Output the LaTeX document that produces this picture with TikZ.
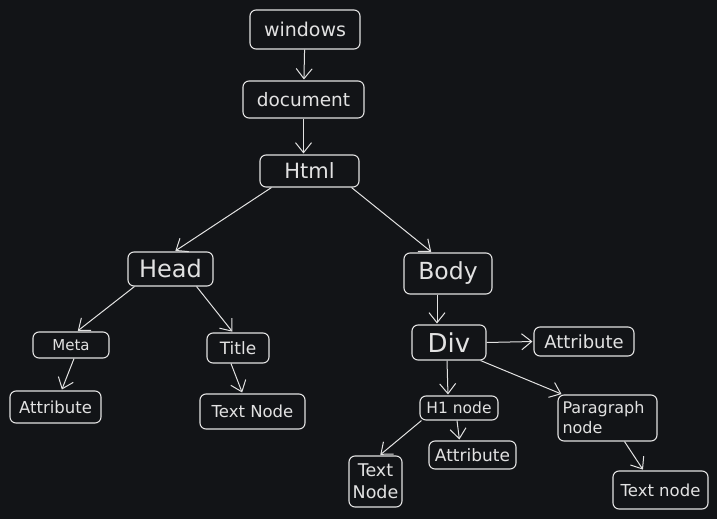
\documentclass[tikz,border=0pt]{standalone}
\usepackage{fontspec}
\setmainfont{DejaVu Sans}
\usepackage{tikz}
\usetikzlibrary{arrows.meta}
\definecolor{bg}{RGB}{18,20,23}
\definecolor{ink}{RGB}{226,226,226}
\tikzstyle{box} = [rectangle, rounded corners=6pt, draw=ink, line width=1.1pt, text=ink, text centered, inner sep=2pt]
\tikzstyle{arrow} = [draw=ink, line width=1pt, -{Straight Barb[length=10pt,width=16pt]}, shorten >=1pt]
\newcommand{\fsz}[1]{\fontsize{#1}{#1}\selectfont}

\begin{document}
\begin{tikzpicture}[x=1pt, y=-1pt]
            \fill[bg] (0,0) rectangle (717,519);
            \useasboundingbox (0,0) rectangle (717,519);

            % top chain
            \node (windows) [box, minimum width=110, minimum height=39, font=\fsz{19}] at (305,29.5) {windows};
            \node (document) [box, minimum width=121, minimum height=37, font=\fsz{18.5}] at (303.5,99.5) {document};
            \node (html) [box, minimum width=99, minimum height=32, font=\fsz{21}] at (309.5,171) {Html};

            % head side
            \node (head) [box, minimum width=85, minimum height=34, font=\fsz{24}] at (170.5,269) {Head};
            \node (meta) [box, minimum width=76, minimum height=26, font=\fsz{15}] at (71,345) {Meta};
            \node (title) [box, minimum width=62, minimum height=30, font=\fsz{17}] at (238,348) {Title};
            \node (meta-attr) [box, minimum width=91, minimum height=32, font=\fsz{16.5}] at (55.5,407) {Attribute};
            \node (title-text) [box, minimum width=105, minimum height=35, font=\fsz{16.5}] at (252.5,411.5) {Text Node};

            % body side
            \node (body) [box, minimum width=88, minimum height=41, font=\fsz{23.5}] at (448,273.5) {Body};
            \node (div) [box, minimum width=74, minimum height=35, font=\fsz{26}] at (449,342.5) {Div};
            \node (div-attr) [box, minimum width=100, minimum height=29, font=\fsz{18}] at (584,341.5) {Attribute};
            \node (h1) [box, minimum width=78, minimum height=24, font=\fsz{15.5}] at (459,408) {H1 node};
            \node (para) [box, minimum width=99, minimum height=46, text width=90pt, align=left, font=\fontsize{16}{20}\selectfont] at (607.5,418) {Paragraph\\node};
            \node (h1-text) [box, minimum width=53, minimum height=51, align=center, font=\fontsize{17.5}{22}\selectfont] at (375.5,481.5) {Text\\Node};
            \node (h1-attr) [box, minimum width=87, minimum height=28, font=\fsz{17}] at (472.5,455) {Attribute};
            \node (para-text) [box, minimum width=95, minimum height=38, font=\fsz{16.5}] at (660.5,490) {Text node};

            \draw [arrow] (windows) -- (document);
            \draw [arrow] (document.south) -- (document.south |- html.north);
            \draw [arrow] ([xshift=12]html.south west) -- ([xshift=4]head.north);
            \draw [arrow] ([xshift=-8]html.south east) -- ([xshift=-16]body.north);
            \draw [arrow] ([xshift=7]head.south west) -- ([xshift=6]meta.north);
            \draw [arrow] ([xshift=-17]head.south east) -- ([xshift=-5]title.north);
            \draw [arrow] ([xshift=3]meta.south) -- ([xshift=6]meta-attr.north);
            \draw [arrow] ([xshift=-7]title.south) -- ([xshift=-10]title-text.north);
            \draw [arrow] ([xshift=-11]body.south) -- ([xshift=-12]div.north);
            \draw [arrow] (div.east) -- (div-attr.west);
            \draw [arrow] ([xshift=-6]div.south east) -- ([xshift=5]para.north west);
            \draw [arrow] ([xshift=-2]div.south) -- ([xshift=-11]h1.north);
            \draw [arrow] ([xshift=2]h1.south west) -- ([xshift=4]h1-text.north);
            \draw [arrow] ([xshift=-2]h1.south) -- ([xshift=-13]h1-attr.north);
            \draw [arrow] ([xshift=17]para.south) -- ([xshift=-17]para-text.north);
        \end{tikzpicture}
\end{document}
